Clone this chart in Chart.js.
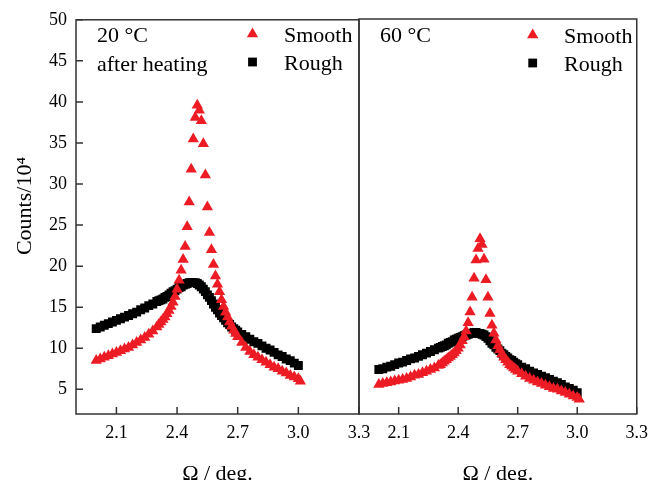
<!DOCTYPE html>
<html>
<head>
<meta charset="utf-8">
<script src="https://cdn.jsdelivr.net/npm/chart.js@4.4.0/dist/chart.umd.min.js"></script>
<style>
  html, body { margin: 0; padding: 0; background: #fff; }
  #wrap { position: relative; width: 656px; height: 480px; overflow: hidden; }
  canvas { position: absolute; top: 0; }
  #left { left: 0; }
  #right { left: 340px; }
</style>
</head>
<body>
<div id="wrap">
  <canvas id="left" width="380" height="480"></canvas>
  <canvas id="right" width="316" height="480"></canvas>
</div>
<script>
// Omega (deg.) sampling, shared by all four curves
const omega = [
  2.00, 2.02, 2.04, 2.06, 2.08, 2.10, 2.12, 2.14, 2.16, 2.18, 2.20, 2.22, 2.24, 2.26, 2.28, 2.30,
  2.31, 2.32, 2.33, 2.34, 2.35, 2.36, 2.37, 2.38, 2.39, 2.40,
  2.41, 2.42, 2.43, 2.44, 2.45, 2.46, 2.47, 2.48, 2.49, 2.50,
  2.51, 2.52, 2.53, 2.54, 2.55, 2.56, 2.57, 2.58, 2.59, 2.60,
  2.61, 2.62, 2.63, 2.64, 2.65, 2.66, 2.67, 2.68, 2.69, 2.70,
  2.72, 2.74, 2.76, 2.78, 2.80, 2.82, 2.84, 2.86, 2.88, 2.90,
  2.92, 2.94, 2.96, 2.98, 3.00, 3.01
];

// 20 °C after heating (counts / 10^4)
const smooth20 = [
  8.5, 8.7, 8.9, 9.1, 9.3, 9.5, 9.7, 9.9, 10.1, 10.4, 10.7, 11.0, 11.3, 11.7, 12.1, 12.6,
  12.9, 13.2, 13.5, 13.8, 14.2, 14.6, 15.1, 15.6, 16.3, 17.2,
  18.3, 19.5, 20.8, 22.4, 24.8, 27.8, 31.8, 35.5, 38.1, 39.6,
  39.0, 37.7, 34.9, 31.1, 27.2, 24.1, 22.0, 20.2, 18.8, 17.8,
  16.9, 15.9, 15.1, 14.4, 13.8, 13.2, 12.7, 12.2, 11.8, 11.4,
  10.7, 10.1, 9.6, 9.2, 8.9, 8.6, 8.3, 8.0, 7.7, 7.5,
  7.2, 7.0, 6.7, 6.5, 6.3, 6.0
];
const rough20 = [
  12.4, 12.6, 12.8, 13.0, 13.2, 13.4, 13.6, 13.8, 14.0, 14.2, 14.4, 14.7, 14.9, 15.2, 15.4, 15.7,
  15.8, 15.9, 16.0, 16.2, 16.3, 16.5, 16.7, 16.9, 17.0, 17.2,
  17.4, 17.5, 17.7, 17.8, 17.9, 18.0, 18.0, 18.0, 18.0, 17.9,
  17.7, 17.5, 17.2, 16.9, 16.5, 16.2, 15.8, 15.4, 15.0, 14.7,
  14.3, 14.0, 13.7, 13.4, 13.1, 12.9, 12.6, 12.4, 12.2, 12.0,
  11.7, 11.4, 11.1, 10.8, 10.6, 10.3, 10.0, 9.8, 9.5, 9.2,
  9.0, 8.7, 8.5, 8.2, 7.9, null
];

// 60 °C
const smooth60 = [
  5.6, 5.7, 5.8, 5.9, 6.0, 6.1, 6.2, 6.3, 6.5, 6.7, 6.8, 7.0, 7.2, 7.4, 7.6, 7.9,
  8.0, 8.2, 8.4, 8.6, 8.8, 9.0, 9.2, 9.4, 9.7, 10.0,
  10.4, 10.9, 11.4, 12.1, 13.1, 14.4, 16.2, 18.5, 20.7, 22.1,
  23.3, 22.6, 20.8, 18.3, 16.2, 14.2, 12.8, 11.8, 11.0, 10.3,
  9.8, 9.3, 8.9, 8.6, 8.3, 8.0, 7.8, 7.6, 7.4, 7.2,
  6.9, 6.6, 6.3, 6.1, 5.9, 5.7, 5.5, 5.3, 5.1, 5.0,
  4.8, 4.6, 4.4, 4.2, 4.0, 3.8
];
const rough60 = [
  7.4, 7.5, 7.7, 7.8, 8.0, 8.2, 8.3, 8.5, 8.7, 8.8, 9.0, 9.2, 9.4, 9.6, 9.8, 10.0,
  10.1, 10.2, 10.3, 10.4, 10.6, 10.7, 10.8, 11.0, 11.1, 11.2,
  11.3, 11.4, 11.5, 11.6, 11.7, 11.8, 11.8, 11.9, 11.9, 11.8,
  11.8, 11.7, 11.6, 11.4, 11.2, 10.9, 10.6, 10.4, 10.1, 9.9,
  9.7, 9.4, 9.2, 9.0, 8.8, 8.6, 8.5, 8.3, 8.1, 8.0,
  7.7, 7.5, 7.2, 7.0, 6.8, 6.6, 6.4, 6.2, 6.0, 5.8,
  5.6, 5.3, 5.1, 4.9, 4.6, null
];

const xTicks = [2.1, 2.4, 2.7, 3.0, 3.3];
const yTicks = [5, 10, 15, 20, 25, 30, 35, 40, 45, 50];
const seriesNames = ['Smooth', 'Rough'];

const RED = '#ed1c24';
const FONT = '"Liberation Serif", "Times New Roman", serif';
Chart.defaults.font.family = FONT;
Chart.defaults.color = '#000';

function toPoints(ys) {
  return omega.map((x, i) => ({ x: x, y: ys[i] })).filter(p => p.y !== null);
}

// box around the plot + inward tick marks
function framePlugin(showY) {
  return {
    id: 'frame',
    afterDatasetsDraw(chart) {
      const { ctx, chartArea: a, scales } = chart;
      ctx.save();
      ctx.strokeStyle = '#333';
      ctx.lineWidth = 1.5;
      ctx.strokeRect(a.left, a.top, a.right - a.left, a.bottom - a.top);
      ctx.beginPath();
      scales.x.ticks.forEach(t => {
        const px = scales.x.getPixelForValue(t.value);
        ctx.moveTo(px, a.bottom);
        ctx.lineTo(px, a.bottom - 7);
      });
      if (showY) {
        scales.y.ticks.forEach(t => {
          const py = scales.y.getPixelForValue(t.value);
          ctx.moveTo(a.left, py);
          ctx.lineTo(a.left + 7, py);
        });
      }
      ctx.stroke();
      ctx.restore();
    }
  };
}

// legend + temperature note in the upper part of each panel
function notesPlugin(lines, legX, legY, textX) {
  return {
    id: 'notes',
    afterDraw(chart) {
      const ctx = chart.ctx;
      ctx.save();
      ctx.fillStyle = '#000';
      ctx.font = '22px ' + FONT;
      ctx.textBaseline = 'alphabetic';
      ctx.textAlign = 'left';
      lines.forEach(l => ctx.fillText(l.text, l.x, l.y));
      // triangle
      const r = 6.5;
      ctx.fillStyle = RED;
      ctx.beginPath();
      ctx.moveTo(legX, legY[0] - r);
      ctx.lineTo(legX + r * 0.866, legY[0] + r / 2);
      ctx.lineTo(legX - r * 0.866, legY[0] + r / 2);
      ctx.closePath();
      ctx.fill();
      // square
      ctx.fillStyle = '#000';
      ctx.fillRect(legX - 4.4, legY[1] - 4.4, 8.8, 8.8);
      ctx.fillText(seriesNames[0], textX, legY[0] + 8);
      ctx.fillText(seriesNames[1], textX, legY[1] + 8);
      ctx.restore();
    }
  };
}

const yTitlePlugin = {
  id: 'ytitle',
  afterDraw(chart) {
    const ctx = chart.ctx;
    ctx.save();
    ctx.translate(25, 206);
    ctx.rotate(-Math.PI / 2);
    ctx.font = '22px ' + FONT;
    ctx.fillStyle = '#000';
    ctx.textAlign = 'center';
    ctx.textBaseline = 'middle';
    ctx.fillText('Counts/10\u2074', 0, 0);
    ctx.restore();
  }
};

function makeChart(id, smooth, rough, showY, padding, plugins) {
  return new Chart(document.getElementById(id), {
    type: 'scatter',
    data: {
      datasets: [
        {
          label: seriesNames[0],
          data: toPoints(smooth),
          pointStyle: 'triangle',
          pointRadius: 6.5,
          pointBorderWidth: 0,
          backgroundColor: RED,
          borderColor: RED
        },
        {
          label: seriesNames[1],
          data: toPoints(rough),
          pointStyle: 'rect',
          pointRadius: 6.3,
          pointBorderWidth: 0,
          backgroundColor: '#000',
          borderColor: '#000'
        }
      ]
    },
    options: {
      responsive: false,
      animation: false,
      devicePixelRatio: 1,
      layout: { padding: padding },
      plugins: { legend: { display: false }, tooltip: { enabled: false } },
      scales: {
        x: {
          type: 'linear',
          min: 1.9,
          max: 3.3,
          grid: { display: false, drawTicks: false },
          border: { display: false },
          afterBuildTicks: s => { s.ticks = xTicks.map(v => ({ value: v })); },
          afterFit: s => { s.height = 66; },
          ticks: {
            autoSkip: false,
            maxRotation: 0,
            padding: 8,
            font: { size: 18 },
            color: '#000',
            callback: v => Number(v).toFixed(1)
          },
          title: {
            display: true,
            text: 'Ω / deg.',
            font: { size: 22, lineHeight: 1 },
            padding: { top: 0, bottom: -5 },
            color: '#000'
          }
        },
        y: {
          type: 'linear',
          display: showY,
          min: 2,
          max: 50,
          grid: { display: false, drawTicks: false },
          border: { display: false },
          afterBuildTicks: s => { s.ticks = yTicks.map(v => ({ value: v })); },
          afterFit: s => { if (showY) s.width = 76; },
          ticks: { padding: 9, font: { size: 18 }, color: '#000' }
        }
      }
    },
    plugins: plugins
  });
}

makeChart('left', smooth20, rough20, true,
  { left: 0, top: 19, right: 21, bottom: 0 },
  [framePlugin(true),
   notesPlugin([{ text: '20 °C', x: 97, y: 42 }, { text: 'after heating', x: 97, y: 70.5 }],
               252.5, [34, 62], 284),
   yTitlePlugin]);

makeChart('right', smooth60, rough60, false,
  { left: 19, top: 19, right: 13, bottom: 0 },
  [framePlugin(false),
   notesPlugin([{ text: '60 °C', x: 40, y: 42 }], 192.7, [35, 63], 224)]);
</script>
</body>
</html>
